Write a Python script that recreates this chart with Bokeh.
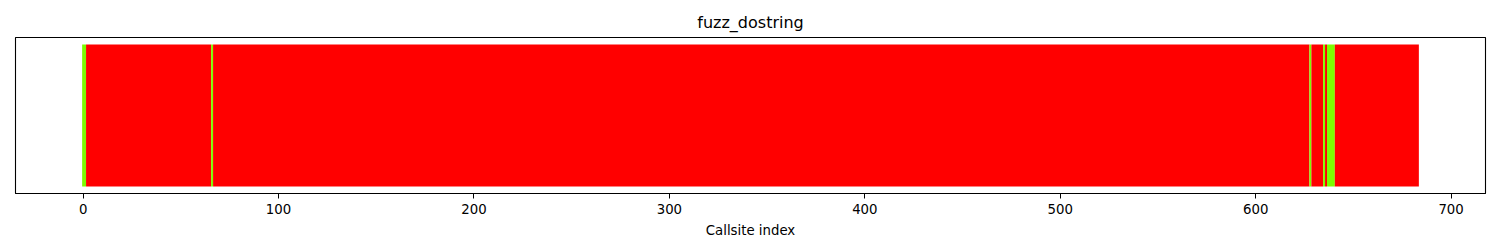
from bokeh.plotting import figure
from bokeh.models import ColumnDataSource, Range1d, FixedTicker
from bokeh.embed import file_html
from bokeh.resources import INLINE

# ---- data ----
title_text = "fuzz_dostring"
x_label = "Callsite index"
n_callsites = 684
hit_callsites = [0, 1, 66, 628, 635, 637, 638, 639, 640]
x_ticks = [0, 100, 200, 300, 400, 500, 600, 700]

RED = "#ff0000"
GREEN = "#7cfc00"

# status per callsite, then group consecutive callsites with the same status
status = [i in set(hit_callsites) for i in range(n_callsites)]
runs = []  # (first, last, hit)
start = 0
for i in range(1, n_callsites + 1):
    if i == n_callsites or status[i] != status[start]:
        runs.append((start, i - 1, status[start]))
        start = i

src = ColumnDataSource(dict(
    left=[r[0] - 0.5 for r in runs],
    right=[r[1] + 0.5 for r in runs],
    bottom=[0] * len(runs),
    top=[1] * len(runs),
    color=[GREEN if r[2] else RED for r in runs],
))

p = figure(width=1500, height=250, output_backend="svg", toolbar_location=None,
           x_range=Range1d(-34.6, 717.6), y_range=Range1d(-0.05, 1.05),
           min_border_left=15, min_border_right=15, min_border_top=37, min_border_bottom=57)

p.quad(left="left", right="right", bottom="bottom", top="top",
       fill_color="color", line_color=None, source=src)

p.title.text = title_text
p.title.align = "center"
p.title.text_font = "DejaVu Sans"
p.title.text_font_size = "16px"
p.title.text_font_style = "normal"
p.title.text_color = "black"
p.title.standoff = 11

p.xgrid.visible = False
p.ygrid.visible = False
p.yaxis.visible = False
p.outline_line_color = "black"
p.outline_line_width = 1.1
p.outline_line_alpha = 1.0

xa = p.xaxis[0]
xa.ticker = FixedTicker(ticks=x_ticks)
xa.axis_label = x_label
xa.axis_label_text_font = "DejaVu Sans"
xa.axis_label_text_font_size = "13.3px"
xa.axis_label_text_font_style = "normal"
xa.axis_label_text_color = "black"
xa.axis_label_standoff = 6
xa.major_label_text_font = "DejaVu Sans"
xa.major_label_text_font_size = "13.3px"
xa.major_label_text_color = "black"
xa.major_label_standoff = 5
xa.major_tick_out = 5
xa.major_tick_in = 0
xa.major_tick_line_color = "black"
xa.minor_tick_line_color = None
xa.axis_line_color = "black"
xa.axis_line_width = 1.1

p.background_fill_color = "white"
p.border_fill_color = "white"

open("out.html", "w").write(file_html(p, INLINE))
